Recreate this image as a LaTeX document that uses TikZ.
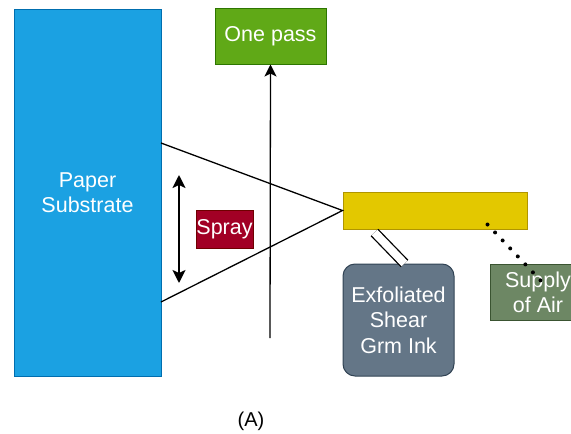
\documentclass[tikz,border=0pt]{standalone}
\usepackage{fontspec}
\setmainfont{Liberation Sans}
\usetikzlibrary{arrows.meta}
\definecolor{subfill}{HTML}{1BA1E2}
\definecolor{subline}{HTML}{006EAF}
\definecolor{passfill}{HTML}{60A917}
\definecolor{passline}{HTML}{2D7600}
\definecolor{sprayfill}{HTML}{A20025}
\definecolor{sprayline}{HTML}{6F0000}
\definecolor{nozzfill}{HTML}{E3C800}
\definecolor{nozzline}{HTML}{B09500}
\definecolor{inkfill}{HTML}{647687}
\definecolor{inkline}{HTML}{314354}
\definecolor{airfill}{HTML}{6D8764}
\definecolor{airline}{HTML}{3A5431}
\tikzset{
  box/.style={rectangle, line width=1pt, inner sep=0pt, align=center, text=white,
    font=\fontsize{21.5}{25.5}\selectfont},
  link/.style={line width=1.3pt, color=black},
}
\begin{document}
\begin{tikzpicture}[x=1pt, y=-1pt]
  \useasboundingbox (0, 0) rectangle (571, 434);
  \node (substrate) at (87.5, 192.5) [box, fill=subfill, draw=subline, minimum width=147, minimum height=367] {Paper\\Substrate};
  \node (onepass) at (270.5, 36) [box, fill=passfill, draw=passline, minimum width=111, minimum height=56] {One pass};
  \node (nozzle) at (435, 210.5) [box, fill=nozzfill, draw=nozzline, minimum width=184, minimum height=37] {};
  \node (ink) at (398.5, 320) [box, fill=inkfill, draw=inkline, rounded corners=12pt, minimum width=111, minimum height=112] {Exfoliated\\Shear\\Grm Ink};
  \node (air) at (538, 292.5) [box, fill=airfill, draw=airline, minimum width=96, minimum height=56] {Supply\\of Air};
  \coordinate (passbase) at (270, 338);
  \coordinate (spraytop) at (161, 143);
  \coordinate (spraybot) at (161, 302);
  \coordinate (swingtop) at (179, 175);
  \coordinate (swingbot) at (179, 283);
  \coordinate (airend) at (543, 283);
  % spray cone and pass direction
  \draw [link] (spraytop) -- (nozzle.west) -- (spraybot);
  \draw [link, -{Stealth[length=12pt, width=12pt, inset=3pt]}] (passbase) -- (onepass.south);
  \draw [line width=2pt, {Stealth[length=13pt, width=13pt, inset=3pt]}-{Stealth[length=13pt, width=13pt, inset=3pt]}] (swingtop) -- (swingbot);
  \node (spray) at (224.5, 229) [box, fill=sprayfill, draw=sprayline, minimum width=57, minimum height=38] {Spray};
  % ink feed and air supply
  \draw [link, double, double distance=8pt] ([xshift=32pt, yshift=-3pt]nozzle.south west) -- ([xshift=62pt]ink.north west);
  \draw [line width=4pt, line cap=round, dash pattern=on 0pt off 11pt] ([xshift=-40pt, yshift=5pt]nozzle.south east) -- (airend);
  \node (caption) at (251, 421) [font=\fontsize{20}{24}\selectfont] {(A)};
\end{tikzpicture}
\end{document}
